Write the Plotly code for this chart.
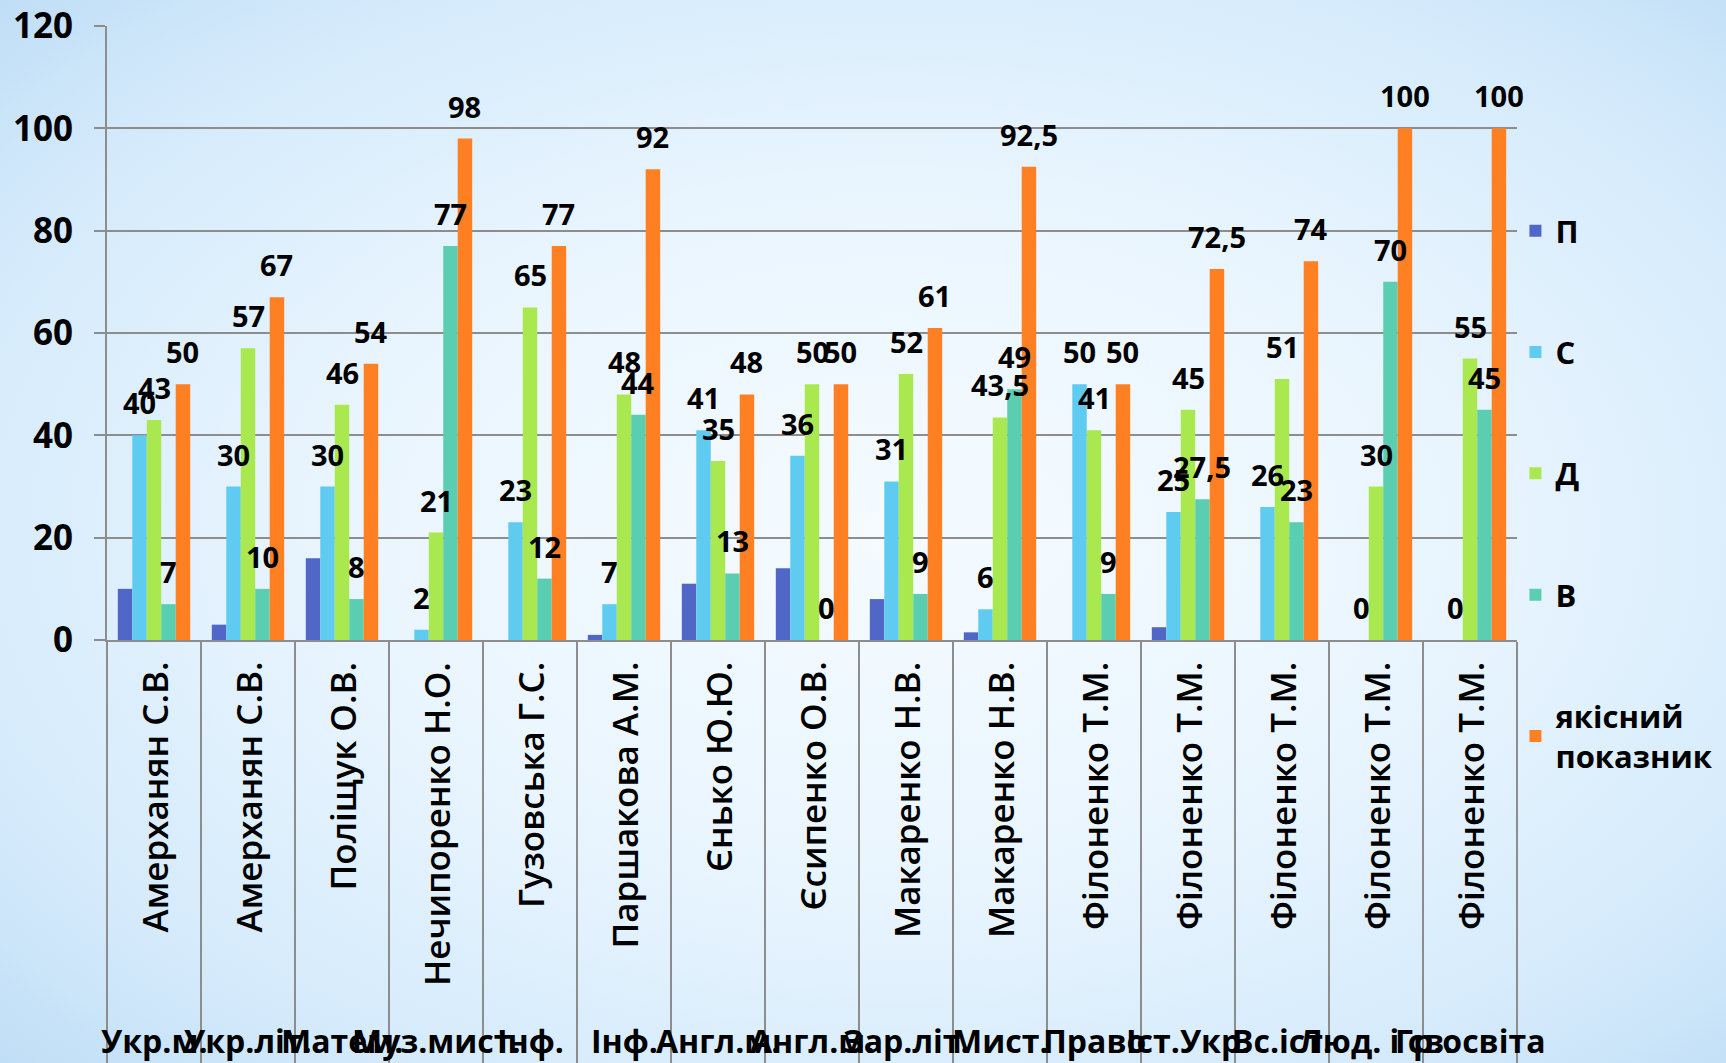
import base64
import plotly.graph_objects as go

# ---------------- data ----------------
teachers = ["Амерханян С.В.", "Амерханян С.В.", "Поліщук О.В.", "Нечипоренко Н.О.",
            "Гузовська Г.С.", "Паршакова А.М.", "Єнько Ю.Ю.", "Єсипенко О.В.",
            "Макаренко Н.В.", "Макаренко Н.В.", "Філоненко Т.М.", "Філоненко Т.М.",
            "Філоненко Т.М.", "Філоненко Т.М.", "Філоненко Т.М."]
subjects = ["Укр.м.", "Укр.літ.", "Матем.", "Муз.мист.", "Інф.", "Інф.", "Англ.м.",
            "Англ.м.", "Зар.літ.", "Мист.", "Право", "Іст.Укр.", "Вс.іст.",
            "Люд. і св.", "Гр.освіта"]
series_names = ["П", "С", "Д", "В", "якісний<br>показник"]
P = [10, 3, 16, 0, 0, 1, 11, 14, 8, 1.5, 0, 2.5, 0, 0, 0]
S = [40, 30, 30, 2, 23, 7, 41, 36, 31, 6, 50, 25, 26, 0, 0]
D = [43, 57, 46, 21, 65, 48, 35, 50, 52, 43.5, 41, 45, 51, 30, 55]
V = [7, 10, 8, 77, 12, 44, 13, 0, 9, 49, 9, 27.5, 23, 70, 45]
Q = [50, 67, 54, 98, 77, 92, 48, 50, 61, 92.5, 50, 72.5, 74, 100, 100]
y_ticks = [0, 20, 40, 60, 80, 100, 120]

# ---------------- style ----------------
colors = ["#5067c7", "#5fcbf1", "#a9e94f", "#5bcdb0", "#ff8022"]
show_labels = [False, True, True, True, True]
FONT = "Open Sans"
GRID = "#8d8d8d"
W, H = 1726, 1063
ML, MR, MT, MB = 107, 209, 26, 423
BARGAP = 0.23

keys = [f"{t} ({s})" for t, s in zip(teachers, subjects)]
series = [P, S, D, V, Q]
pw, ph = W - ML - MR, H - MT - MB
bar_px = pw / len(keys) * (1 - BARGAP) / len(series)   # pixel width of one bar


def fmt(v):
    return f"{v:g}".replace(".", ",")


fig = go.Figure()
for i, (name, vals, col) in enumerate(zip(series_names, series, colors)):
    fig.add_trace(go.Bar(
        x=keys, y=vals, name=name, marker=dict(color=col, line=dict(width=0)),
        legendgroup=name, textposition="none",
    ))

# data labels drawn above all bars (as in the reference)
for i, (vals, lab) in enumerate(zip(series, show_labels)):
    if not lab:
        continue
    slot = (i - (len(series) - 1) / 2) * bar_px
    for k, v in zip(keys, vals):
        fig.add_annotation(x=k, y=v, xref="x", yref="y", text=fmt(v), showarrow=False,
                           xanchor="center", yanchor="bottom", xshift=slot, yshift=11,
                           font=dict(family=FONT, size=29, color="black", weight="bold"))

# background gradient (svg data uri)
svg = f"""<svg xmlns='http://www.w3.org/2000/svg' width='{W}' height='{H}' viewBox='0 0 {W} {H}' preserveAspectRatio='none'>
<defs>
<radialGradient id='g' cx='0.52' cy='0.5' r='0.72'>
<stop offset='0' stop-color='#f5fbff'/>
<stop offset='0.45' stop-color='#e9f5fe'/>
<stop offset='0.8' stop-color='#d4eafb'/>
<stop offset='1' stop-color='#c0def6'/>
</radialGradient>
</defs>
<rect width='{W}' height='{H}' fill='url(#g)'/>
</svg>"""
uri = "data:image/svg+xml;base64," + base64.b64encode(svg.encode()).decode()
fig.add_layout_image(dict(
    source=uri, xref="paper", yref="paper", x=-ML / pw, y=1 + MT / ph,
    sizex=W / pw, sizey=H / ph, sizing="stretch", layer="below", xanchor="left", yanchor="top",
))

# teacher names (rotated) under the axis
for k, t in zip(keys, teachers):
    fig.add_annotation(x=k, xref="x", y=0, yref="paper", yanchor="top", yshift=-20,
                       text=t, textangle=-90, showarrow=False,
                       font=dict(family=FONT, size=35, color="black", weight=600))
# subject labels at the bottom
for k, s in zip(keys, subjects):
    fig.add_annotation(x=k, xref="x", y=0, yref="paper", yanchor="middle", yshift=-400,
                       text=s, showarrow=False,
                       font=dict(family=FONT, size=32, color="black", weight="bold"))

fig.update_layout(
    template="none",
    width=W, height=H, margin=dict(l=ML, r=MR, t=MT, b=MB, pad=0, autoexpand=False),
    paper_bgcolor="#dceefc", plot_bgcolor="rgba(0,0,0,0)",
    barmode="group", bargap=BARGAP, bargroupgap=0,
    font=dict(family=FONT, color="black"),
    legend=dict(xref="container", yref="container", x=0.878, y=0.808, xanchor="left", yanchor="top",
                font=dict(family=FONT, size=31, color="black", weight="bold"),
                tracegroupgap=78, bgcolor="rgba(0,0,0,0)", traceorder="grouped",
                maxheight=950),
    showlegend=True,
)
fig.update_xaxes(type="category", range=[-0.5, len(keys) - 0.5], autorange=False,
                 showgrid=False, showticklabels=False, automargin=False,
                 tickson="boundaries", ticks="outside", ticklen=MB, tickwidth=2, tickcolor=GRID,
                 showline=True, linecolor=GRID, linewidth=2, zeroline=False)
fig.update_yaxes(range=[0, 120], autorange=False, tickvals=y_ticks, showgrid=True,
                 gridcolor=GRID, gridwidth=2,
                 zeroline=False, showline=True, linecolor=GRID, linewidth=2, automargin=False,
                 ticks="outside", ticklen=11, tickwidth=2, tickcolor=GRID, ticklabelstandoff=14,
                 tickfont=dict(family=FONT, size=35, color="black", weight="bold"))

fig.write_html("out.html", config={"displayModeBar": False},
               post_script="document.body.style.margin='0';")
